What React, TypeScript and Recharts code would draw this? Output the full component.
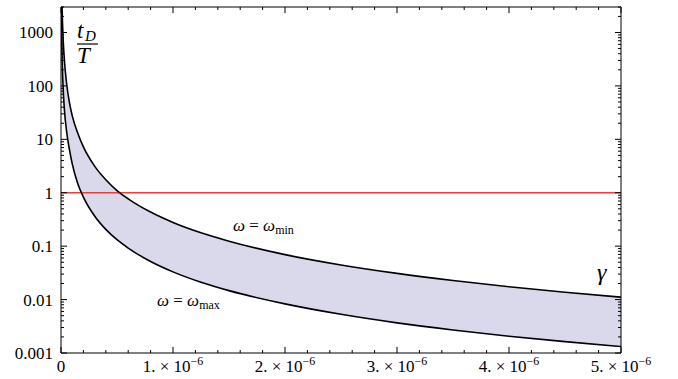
import { ComposedChart, Area, Line, XAxis, YAxis, ReferenceLine } from "recharts";

// gamma values (x) and t_D/T for the two frequency limits
const gamma = [3e-9, 5e-9, 1e-8, 2e-8, 3e-8, 5e-8, 7.5e-8, 1e-7, 1.5e-7, 2e-7, 3e-7, 4e-7, 5e-7, 6e-7, 8e-7, 1e-6, 1.25e-6, 1.5e-6, 2e-6, 2.5e-6, 3e-6, 3.5e-6, 4e-6, 4.5e-6, 5e-6];
const tdMin = [30900, 11100, 2780, 695, 309, 111, 49, 27.8, 13, 7.2, 3.15, 1.75, 1.1, 0.77, 0.435, 0.278, 0.178, 0.124, 0.0695, 0.0445, 0.0309, 0.0227, 0.0174, 0.0137, 0.0111];
const tdMax = [3670, 1320, 330, 83, 37, 14, 6.5, 3.5, 1.47, 0.83, 0.367, 0.206, 0.132, 0.092, 0.0516, 0.033, 0.0211, 0.0147, 0.0083, 0.0053, 0.00367, 0.0027, 0.00206, 0.00163, 0.00132];

const xMajor = [0, 1e-6, 2e-6, 3e-6, 4e-6, 5e-6];
const xLabels = ["0", "1.", "2.", "3.", "4.", "5."];
const yMajor = [0.001, 0.01, 0.1, 1, 10, 100, 1000];
const yLabels = ["0.001", "0.01", "0.1", "1", "10", "100", "1000"];

const data = gamma.map((g, i) => ({ g, lo: tdMax[i], hi: tdMin[i], band: [tdMax[i], tdMin[i]] }));

const xTicks: number[] = [];
for (let i = 0; i <= 25; i++) xTicks.push(i * 0.2e-6);
const yTicks: number[] = [];
for (let d = -3; d <= 3; d++) for (let m = 1; m <= 9; m++) if (d < 3 || m <= 3) yTicks.push(m * Math.pow(10, d));

const FONT = "'Liberation Serif', 'Times New Roman', serif";

const majorX = (v: number) => xMajor.findIndex((m) => Math.abs(v - m) < 1e-9);
const majorY = (v: number) => yMajor.findIndex((m) => Math.abs(v / m - 1) < 1e-6);

const BottomTick = (props: any) => {
  const { x, y, payload } = props;
  const idx = majorX(payload.value);
  return (
    <g>
      <line x1={x} x2={x} y1={y} y2={y - (idx >= 0 ? 6 : 3)} stroke="#000" />
      {idx >= 0 && (
        <text x={x} y={y + 19} textAnchor="middle" fontFamily={FONT} fontSize={17} fill="#000" stroke="none">
          {idx === 0 ? "0" : (
            <>
              {xLabels[idx] + " × 10"}
              <tspan dy={-7} fontSize={12}>−6</tspan>
            </>
          )}
        </text>
      )}
    </g>
  );
};

const TopTick = (props: any) => {
  const { x, y, payload } = props;
  const idx = majorX(payload.value);
  return <line x1={x} x2={x} y1={y} y2={y + (idx >= 0 ? 6 : 3)} stroke="#000" />;
};

const LeftTick = (props: any) => {
  const { x, y, payload } = props;
  const idx = majorY(payload.value);
  return (
    <g>
      <line x1={x} x2={x + (idx >= 0 ? 6 : 3)} y1={y} y2={y} stroke="#000" />
      {idx >= 0 && (
        <text x={x - 8} y={y + 6} textAnchor="end" fontFamily={FONT} fontSize={17} fill="#000" stroke="none">
          {yLabels[idx]}
        </text>
      )}
    </g>
  );
};

const RightTick = (props: any) => {
  const { x, y, payload } = props;
  const idx = majorY(payload.value);
  return <line x1={x} x2={x - (idx >= 0 ? 6 : 3)} y1={y} y2={y} stroke="#000" />;
};

export default function App() {
  return (
    <div style={{ position: "absolute", left: 0, top: 0, width: 678, height: 379, background: "#fff" }}>
      <ComposedChart width={678} height={379} data={data} margin={{ top: 6, right: 56, bottom: 0, left: 0 }}>
        <XAxis xAxisId="b" dataKey="g" type="number" domain={[0, 5e-6]} ticks={xTicks} interval={0} allowDataOverflow
          height={26} tickSize={0} tickMargin={0} tick={<BottomTick />} axisLine={{ stroke: "#000" }} tickLine={false} />
        <XAxis xAxisId="t" orientation="top" dataKey="g" type="number" domain={[0, 5e-6]} ticks={xTicks} interval={0}
          allowDataOverflow height={1} tickSize={0} tickMargin={0} tick={<TopTick />} axisLine={{ stroke: "#000" }} tickLine={false} />
        <YAxis yAxisId="l" type="number" scale="log" domain={[0.001, 3000]} ticks={yTicks} interval={0} allowDataOverflow
          width={61} tickSize={0} tickMargin={0} tick={<LeftTick />} axisLine={{ stroke: "#000" }} tickLine={false} />
        <YAxis yAxisId="r" orientation="right" type="number" scale="log" domain={[0.001, 3000]} ticks={yTicks} interval={0}
          allowDataOverflow width={1} tickSize={0} tickMargin={0} tick={<RightTick />} axisLine={{ stroke: "#000" }} tickLine={false} />
        <Area xAxisId="b" yAxisId="l" dataKey="band" type="monotone" fill="#d9d9eb" fillOpacity={1} stroke="none" isAnimationActive={false} />
        <ReferenceLine xAxisId="b" yAxisId="l" y={1} stroke="#f03c3c" strokeWidth={1.3} />
        <Line xAxisId="b" yAxisId="l" dataKey="hi" type="monotone" stroke="#000" strokeWidth={1.6} dot={false} isAnimationActive={false} />
        <Line xAxisId="b" yAxisId="l" dataKey="lo" type="monotone" stroke="#000" strokeWidth={1.6} dot={false} isAnimationActive={false} />
      </ComposedChart>
      <svg width={678} height={379} style={{ position: "absolute", left: 0, top: 0, pointerEvents: "none" }}>
        <text x={77} y={38} fontFamily={FONT} fontStyle="italic" fontSize={23} fill="#000">t</text>
        <text x={85} y={41} fontFamily={FONT} fontStyle="italic" fontSize={15} fill="#000">D</text>
        <line x1={77} x2={98} y1={44} y2={44} stroke="#000" strokeWidth={1.2} />
        <text x={77} y={63} fontFamily={FONT} fontStyle="italic" fontSize={23} fill="#000">T</text>
        <text x={233} y={231} fontFamily={FONT} fontSize={17} fill="#000">
          <tspan fontStyle="italic">ω</tspan> = <tspan fontStyle="italic">ω</tspan>
          <tspan dy={3} fontSize={12}>min</tspan>
        </text>
        <text x={157} y={306} fontFamily={FONT} fontSize={17} fill="#000">
          <tspan fontStyle="italic">ω</tspan> = <tspan fontStyle="italic">ω</tspan>
          <tspan dy={3} fontSize={12}>max</tspan>
        </text>
        <text x={597} y={280} fontFamily={FONT} fontStyle="italic" fontSize={24} fill="#000">γ</text>
      </svg>
    </div>
  );
}
